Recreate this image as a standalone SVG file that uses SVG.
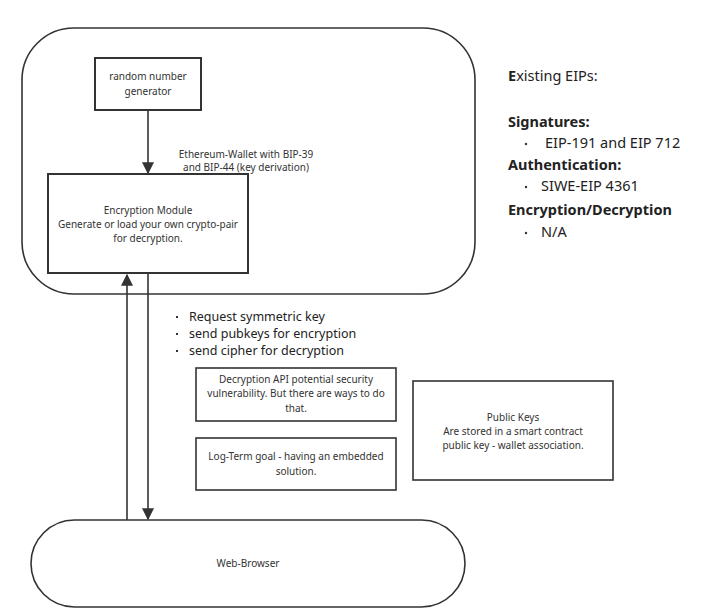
<svg xmlns="http://www.w3.org/2000/svg" width="721" height="613" viewBox="0 0 721 613">
<defs>
<marker id="ah" viewBox="0 0 10 10" refX="9" refY="5" markerWidth="12" markerHeight="12" markerUnits="userSpaceOnUse" orient="auto">
<path d="M0,0 L10,5 L0,10 Z" fill="#333"/>
</marker>
<style>
.box{fill:#fff;stroke:#333;stroke-width:2}
.thin{fill:#fff;stroke:#333;stroke-width:1.6}
.t{font-family:"Noto Sans","Open Sans","Liberation Sans",sans-serif;font-size:10px;fill:#333;text-anchor:middle}
.l{font-family:"Noto Sans","Open Sans","Liberation Sans",sans-serif;font-size:12.5px;fill:#222}
.r{font-family:"Noto Sans","Open Sans","Liberation Sans",sans-serif;font-size:14.5px;fill:#222}
.b{font-weight:bold}
.c{fill:none;stroke:#333;stroke-width:1.6}
.dot{fill:#333}
</style>
</defs>
<rect width="721" height="613" fill="#fff"/>
<g id="wallet"><rect class="thin" x="22" y="28" width="453" height="266" rx="52"/></g>
<g id="rng"><rect class="box" x="95" y="58" width="106" height="52"/>
<text class="t" x="148" y="80">random number</text>
<text class="t" x="148" y="95">generator</text></g>
<g id="enc"><rect class="box" x="48" y="174" width="200" height="99"/>
<text class="t" x="148" y="214">Encryption Module</text>
<text class="t" x="148" y="228">Generate or load your own crypto-pair</text>
<text class="t" x="148" y="242">for decryption.</text></g>
<g id="browser"><rect class="thin" x="31" y="520" width="434" height="87" rx="43.5"/>
<text class="t" x="248" y="567">Web-Browser</text></g>
<g id="decapi"><rect class="thin" x="196" y="368" width="200" height="53"/>
<text class="t" x="296" y="383">Decryption API potential security</text>
<text class="t" x="296" y="397">vulnerability. But there are ways to do</text>
<text class="t" x="296" y="412">that.</text></g>
<g id="longterm"><rect class="thin" x="196" y="438" width="200" height="52"/>
<text class="t" x="296" y="460">Log-Term goal - having an embedded</text>
<text class="t" x="296" y="475">solution.</text></g>
<g id="pubkeys"><rect class="thin" x="413" y="381" width="200" height="99"/>
<text class="t" x="513" y="421">Public Keys</text>
<text class="t" x="513" y="435">Are stored in a smart contract</text>
<text class="t" x="513" y="449">public key - wallet association.</text></g>
<g id="connectors">
<line class="c" x1="148" y1="110" x2="148" y2="173" marker-end="url(#ah)"/>
<line class="c" x1="127" y1="520" x2="127" y2="275" marker-end="url(#ah)"/>
<line class="c" x1="148" y1="273" x2="148" y2="519" marker-end="url(#ah)"/>
<text class="t" x="246" y="158">Ethereum-Wallet with BIP-39</text>
<text class="t" x="246" y="171">and BIP-44 (key derivation)</text>
</g>
<g id="bullets">
<rect class="dot" x="176" y="316" width="2" height="2"/><text class="l" x="189" y="321">Request symmetric key</text>
<rect class="dot" x="176" y="333" width="2" height="2"/><text class="l" x="189" y="338">send pubkeys for encryption</text>
<rect class="dot" x="176" y="350" width="2" height="2"/><text class="l" x="189" y="355">send cipher for decryption</text>
</g>
<g id="eips">
<text class="r" x="508" y="81"><tspan class="b">E</tspan>xisting EIPs:</text>
<text class="r b" x="508" y="127">Signatures:</text>
<circle class="dot" cx="526" cy="144" r="1.2"/><text class="r" x="545" y="148">EIP-191 and EIP 712</text>
<text class="r b" x="508" y="170">Authentication:</text>
<circle class="dot" cx="526" cy="187" r="1.2"/><text class="r" x="541" y="191">SIWE-EIP 4361</text>
<text class="r b" x="508" y="215">Encryption/Decryption</text>
<circle class="dot" cx="526" cy="233" r="1.2"/><text class="r" x="541" y="237">N/A</text>
</g>
</svg>
